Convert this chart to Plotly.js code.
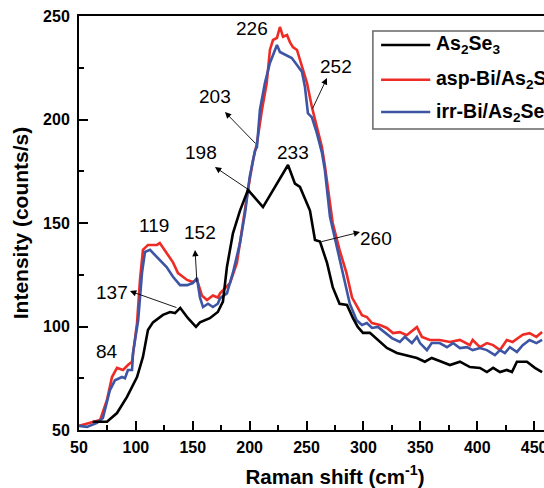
<!DOCTYPE html>
<html>
<head>
<meta charset="utf-8">
<script src="https://cdn.plot.ly/plotly-3.0.1.min.js"></script>
<style>
html,body{margin:0;padding:0;overflow:hidden;background:#fff;}
#chart{width:640px;height:488px;}
</style>
</head>
<body>
<div id="chart"></div>
<script>
// ---- data ----
const seriesNames = ['As<sub>2</sub>Se<sub>3</sub>', 'asp-Bi/As<sub>2</sub>Se<sub>3</sub>', 'irr-Bi/As<sub>2</sub>Se<sub>3</sub>'];

const xBlack = [62,74.6,83.4,92.2,101,106.2,110.6,115,123.8,130,134.4,139,145.8,152.8,156.3,165,172,176.5,180,185.3,191.5,198.5,211.7,224,233.7,239.8,244.2,253,257.4,261.8,268,273,279,285.5,290.8,295,299.6,305.7,314.5,320.6,329.4,338,347,354,360,367,376,384.8,393.6,402.4,408.5,414,420,426,430.5,434.9,443.7,450.7,457];
const yBlack = [54,54,58.2,66,75.6,85.3,98.3,102,105.6,107,106.5,109,104,99.8,102,104,107,112,128.7,145,156,166,157.7,169,178,169,167.4,156,141.8,141,130.7,119,111,110.4,104,99.8,96.9,97,92.5,89.6,87.2,86.2,84.8,83,84.8,83.3,81.4,83,80.4,80,78,80,78,79,78,83,83,80,78];

const xRed = [50,59.7,68.5,74.6,79,83.4,88.7,93,96.6,101,103.6,106.2,110.6,118.5,121,127,132.6,137,145,150,153.7,158,162.5,167.7,172,174,182.7,188.8,194,198.5,203,206.4,210.8,215,217.8,220.5,224,226.6,229.3,232.8,235.4,238,241.6,246,250.4,254.7,259,263.5,266,270,273,279,285,290,295,298.7,303,307.5,314.5,320.6,326,332,338,347,351.4,358.4,367,376,384.8,393.6,396,402.4,408.5,414,420,426,431,440,446,452,457];
const yRed = [52,53.4,54.8,64.5,75.6,80,79,81.4,83,101.6,122.5,137,139.4,139.4,140.3,135.5,131,125.8,122.5,121.5,122.5,115,112.8,115,114,116,121,130.7,150,166,180.4,188.6,204.6,217.6,233.6,238.4,239.4,244.7,240,240.8,237.4,235,233.6,225.4,217.6,206,196.4,186.7,178,163,150,137,126,114,109.4,105.5,104.6,101.7,100.7,99.3,96.8,97.3,95.8,99.7,95,93.5,93.5,92.5,93.5,91,93.5,90,92,91,88.6,93.5,92.5,96,96.8,95,97.3];

const xBlue = [50,57,65.8,71,77.2,81.6,87.8,90.4,93,96.6,97.5,102,105.4,108,112.4,116.8,121,127,132.6,138.8,145,150,153.7,156.3,159,163.4,167.7,172,174,180,185.3,191.5,196,200,204.7,206.4,209,213.4,217.8,220.5,224,226.6,232.8,237,241.6,246,248.6,251.2,254.7,259,263.5,266,270.6,276.7,282,288,294,298.7,303,307.5,312.7,319,325,332,336.4,342.6,347,349.7,355.8,360,367,373.4,378.7,384.8,391,396,402.4,408.5,415.6,420,424.3,428.7,434.9,440,446,452,457];
const yBlue = [52,51.5,53.4,55.8,69.3,74,75.6,75,79,79,87.3,103,126,136,137,134.5,132,128.7,124,120,120,121,123.4,114,109.4,111,109.4,111,113.7,116,126,140.4,155,172.2,185,186.7,204.6,217.6,227.3,231,236,232.6,231,229.7,226.3,223,215.7,203,201,193.5,184,176,153,138.4,126,111,103,100.7,101.7,99.3,99.8,96.8,94.4,92.5,95,92,95,92,88.6,92,92,90,92,89.6,90,88.6,89.6,88.6,86.2,88.6,87.2,90,87.7,91,93.5,92,93.5];

const peakLabels = ['84','137','119','152','198','203','226','233','252','260'];
const xTicks = [50,100,150,200,250,300,350,400,450,500];
const yTicks = [50,100,150,200,250];

// ---- styling / placement ----
const colors = ['#000000', '#ee2b24', '#3c55a5'];
const labelPos = [[74.6,87.7],[78.6,116.2],[115.9,148.6],[156.3,145.2],[157.2,184.3],[169.5,210.9],[202,244.2],[238,184.3],[275.8,225.8],[311,142.3]];
// arrows: [headX, headY, tailX, tailY]
const arrows = [[94.8,117.1,137,108.9],[152,137,153.7,121],[169.5,177,202,165],[178.3,203.6,206.4,187.7],[267.9,220,254.7,204.6],[297,145.6,261.8,140.8]];

const font = 'Liberation Sans, Arial, Helvetica, sans-serif';

const xs = [xBlack, xRed, xBlue];
const ys = [yBlack, yRed, yBlue];
const traces = xs.map((x, i) => ({
  x: x, y: ys[i], type: 'scatter', mode: 'lines', name: seriesNames[i],
  line: {color: colors[i], width: 2.6}, showlegend: false
}));
const ordered = [traces[1], traces[2], traces[0]];

const annotations = [];
peakLabels.forEach((t, i) => {
  annotations.push({x: labelPos[i][0], y: labelPos[i][1], xref: 'x', yref: 'y', text: t,
    showarrow: false, xanchor: 'center', yanchor: 'middle',
    font: {family: font, size: 19, color: '#000'}});
});
arrows.forEach(a => {
  annotations.push({x: a[0], y: a[1], ax: a[2], ay: a[3], xref: 'x', yref: 'y', axref: 'x', ayref: 'y',
    text: '', showarrow: true, arrowhead: 2, arrowsize: 1.4, arrowwidth: 0.9, arrowcolor: '#000',
    standoff: 0, startstandoff: 0});
});

// legend (drawn manually to match the reference)
const legRows = [0.930, 0.846, 0.768];
const shapes = [{type: 'rect', xref: 'paper', yref: 'paper', x0: 0.574, x1: 1.0, y0: 0.727, y1: 0.964,
  line: {color: '#666', width: 1.5}, fillcolor: 'rgba(0,0,0,0)'}];
legRows.forEach((ry, i) => {
  shapes.push({type: 'line', xref: 'paper', yref: 'paper', x0: 0.590, x1: 0.686, y0: ry, y1: ry,
    line: {color: colors[i], width: 2.6}});
  annotations.push({xref: 'paper', yref: 'paper', x: 0.693, y: ry, text: seriesNames[i],
    showarrow: false, xanchor: 'left', yanchor: 'middle',
    font: {family: font, size: 19.5, color: '#000', weight: 'bold'}});
});

const axisCommon = {
  showline: true, linewidth: 2, linecolor: '#000', mirror: true,
  ticks: 'inside', ticklen: 9, tickwidth: 2, tickcolor: '#000',
  showgrid: false, zeroline: false,
  tickfont: {family: font, size: 16, color: '#000', weight: 'bold'}
};

const layout = {
  width: 640, height: 488,
  margin: {l: 79, r: 49, t: 16, b: 58, autoexpand: false},
  paper_bgcolor: '#fff', plot_bgcolor: '#fff',
  showlegend: false,
  xaxis: Object.assign({}, axisCommon, {
    range: [50, 500], tickvals: xTicks, ticktext: xTicks.map(String),
    ticklabelstandoff: 2,
    minor: {ticks: 'inside', ticklen: 5, tickwidth: 2, tickcolor: '#000', dtick: 25, tick0: 50},
    title: {text: 'Raman shift (cm<sup>-1</sup>)', font: {family: font, size: 20.5, color: '#000', weight: 'bold'}, standoff: 17}
  }),
  yaxis: Object.assign({}, axisCommon, {
    range: [50, 250], tickvals: yTicks, ticktext: yTicks.map(String),
    ticklabelstandoff: 4,
    minor: {ticks: 'inside', ticklen: 5, tickwidth: 2, tickcolor: '#000', dtick: 25, tick0: 50},
    title: {text: 'Intensity (counts/s)', font: {family: font, size: 21, color: '#000', weight: 'bold'}, standoff: 9}
  }),
  annotations: annotations,
  shapes: shapes
};

Plotly.newPlot('chart', ordered, layout, {displayModeBar: false, staticPlot: true});
</script>
</body>
</html>
